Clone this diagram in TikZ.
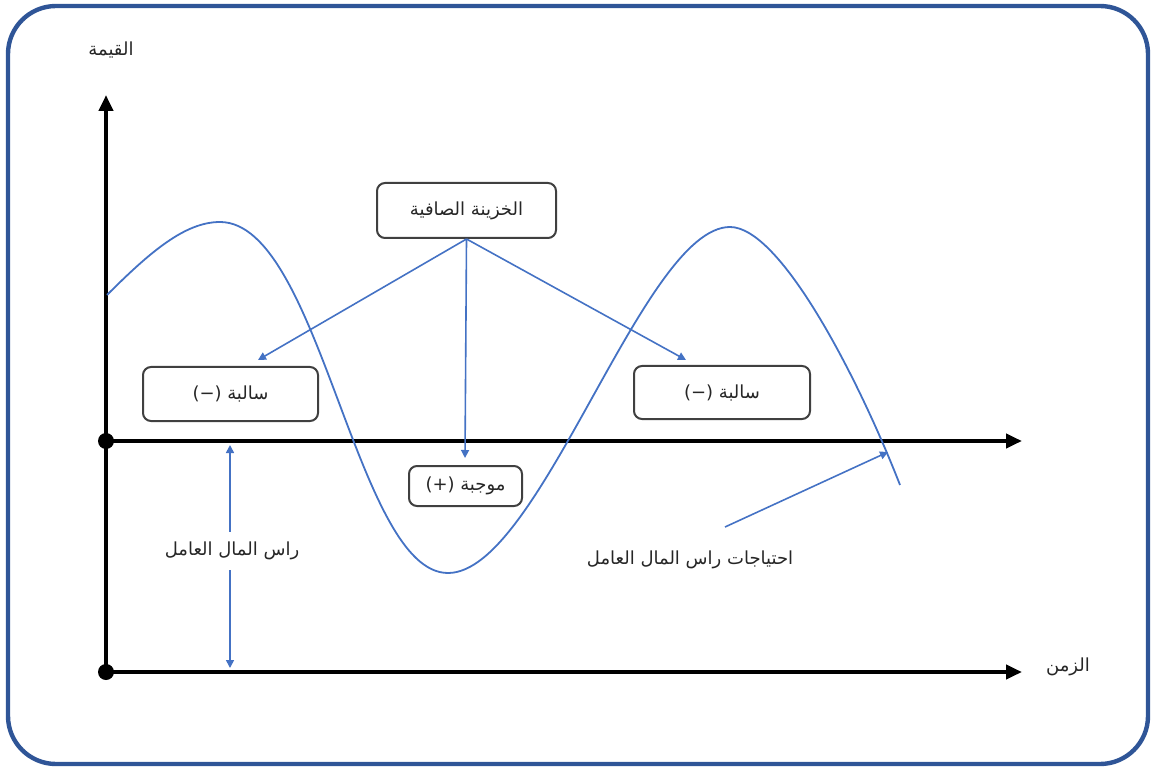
\documentclass[tikz,border=0pt]{standalone}
\usepackage{fontspec}
\newfontfamily\arab[Script=Arabic]{DejaVu Sans}
\TeXXeTstate=1
\usetikzlibrary{arrows.meta}
\definecolor{frame}{HTML}{2F5597}
\definecolor{wave}{HTML}{4472C4}
\definecolor{boxline}{HTML}{404040}
\definecolor{txt}{HTML}{262626}
\begin{document}
\begin{tikzpicture}[x=0.5pt,y=-0.5pt,
  axis/.style={line width=2pt,black,-{Triangle[length=8pt,width=7pt]}},
  box/.style={draw=boxline,line width=1pt,rounded corners=4pt,fill=white,text=txt,font=\arab\fontsize{9}{11}\selectfont},
  lbl/.style={font=\arab\fontsize{9}{11}\selectfont,text=txt,inner sep=1pt},
  barrow/.style={draw=wave,line width=0.8pt,-{Triangle[length=4pt,width=4pt]}},
  dot/.style={circle,fill=black,inner sep=0pt,minimum size=8pt}]
\useasboundingbox (0,0) rectangle (1154,769);
\draw[frame,line width=2.2pt,rounded corners=24pt] (8,6) rectangle (1148,764);
% axes
\coordinate (O1) at (106,441);
\coordinate (O2) at (106,672);
\coordinate (ytip) at (106,95);
\coordinate (x1tip) at (1022,441);
\coordinate (x2tip) at (1022,672);
\draw[axis] (O2) -- (ytip);
\draw[axis] (O1) -- (x1tip);
\draw[axis] (O2) -- (x2tip);
\node[dot] (d1) at (O1) {};
\node[dot] (d2) at (O2) {};
\node[lbl] (ylab) at (111,50) {\beginR القيمة\endR};
\node[lbl] (xlab) at (1068,667) {\beginR الزمن\endR};
% wave
\draw[wave,line width=0.9pt] (107,295) .. controls (150,252) and (185,222) .. (220,222)
  .. controls (320,222) and (356,573) .. (448,573)
  .. controls (540,573) and (643,227) .. (730,227)
  .. controls (780,227) and (857,375) .. (900,485);
% boxes
\node[box,minimum width=89.5pt,minimum height=27.5pt] (tn) at (466.5,210.5) {\beginR الخزينة الصافية\endR};
\node[box,minimum width=87.5pt,minimum height=27pt] (neg1) at (230.5,394) {(−) \beginR سالبة\endR};
\node[box,minimum width=88pt,minimum height=26.5pt] (neg2) at (722,392.5) {(−) \beginR سالبة\endR};
\node[box,minimum width=56.5pt,minimum height=20pt] (pos) at (465.5,486) {(+) \beginR موجبة\endR};
% arrows from net treasury
\coordinate (a1) at (258,360);
\coordinate (a2) at (686,360);
\coordinate (a3) at (465,458);
\draw[barrow] (tn.south) -- (a1);
\draw[barrow] (tn.south) -- (a2);
\draw[barrow] (tn.south) -- (a3);
% working capital
\node[lbl] (wc) at (232,551) {\beginR راس المال العامل\endR};
\coordinate (wct) at (230,445);
\coordinate (wcb) at (230,668);
\draw[barrow] (wc.north -| wct) ++(0,-8) -- (wct);
\draw[barrow] (wc.south -| wcb) ++(0,8) -- (wcb);
% working capital needs
\node[lbl] (wcn) at (690,560) {\beginR احتياجات راس المال العامل\endR};
\coordinate (wcnt) at (725,527);
\coordinate (wcnh) at (888,452);
\draw[barrow] (wcnt) -- (wcnh);
\end{tikzpicture}
\end{document}
